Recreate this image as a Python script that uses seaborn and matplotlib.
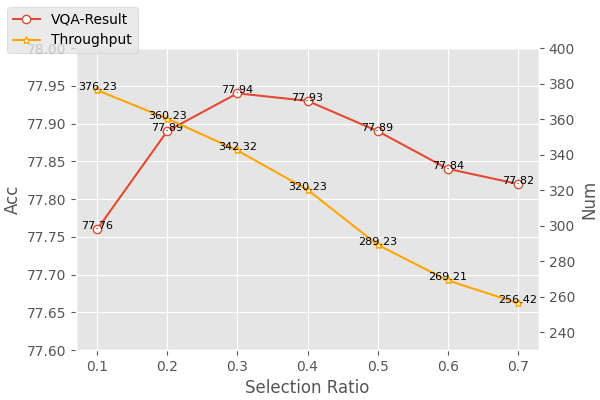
import matplotlib
matplotlib.use("Agg")
import matplotlib.pyplot as plt
import seaborn as sns

plt.style.use("ggplot")

ratios = [0.1, 0.2, 0.3, 0.4, 0.5, 0.6, 0.7]
vqa_acc = [77.76, 77.89, 77.94, 77.93, 77.89, 77.84, 77.82]
throughput = [376.23, 360.23, 342.32, 320.23, 289.23, 269.21, 256.42]

fig, ax = plt.subplots(figsize=(6, 4), dpi=100)
ax2 = ax.twinx()

sns.lineplot(x=ratios, y=vqa_acc, ax=ax, color="#E24A33", marker="o",
             markersize=6, markerfacecolor="white", markeredgecolor="#E24A33",
             markeredgewidth=1.0, linewidth=1.5, label="VQA-Result", legend=False)
sns.lineplot(x=ratios, y=throughput, ax=ax2, color="orange", marker="*",
             markersize=6, markerfacecolor="white", markeredgecolor="orange",
             markeredgewidth=1.0, linewidth=1.5, label="Throughput", legend=False)

for x, y in zip(ratios, vqa_acc):
    ax.text(x, y, f"{y:.2f}", ha="center", va="baseline", fontsize=8, color="black")
for x, y in zip(ratios, throughput):
    ax2.text(x, y, f"{y:.2f}", ha="center", va="baseline", fontsize=8, color="black")

ax.set_ylim(77.60, 78.00)
ax2.set_ylim(230, 400)
ax.set_xticks(ratios)
ax.set_xlabel("Selection Ratio")
ax.set_ylabel("Acc")
ax2.set_ylabel("Num")
ax2.grid(False)

fig.legend(loc="upper left", fontsize=10)
fig.subplots_adjust(left=0.127, right=0.898, top=0.88, bottom=0.125)
fig.savefig("out.png")
